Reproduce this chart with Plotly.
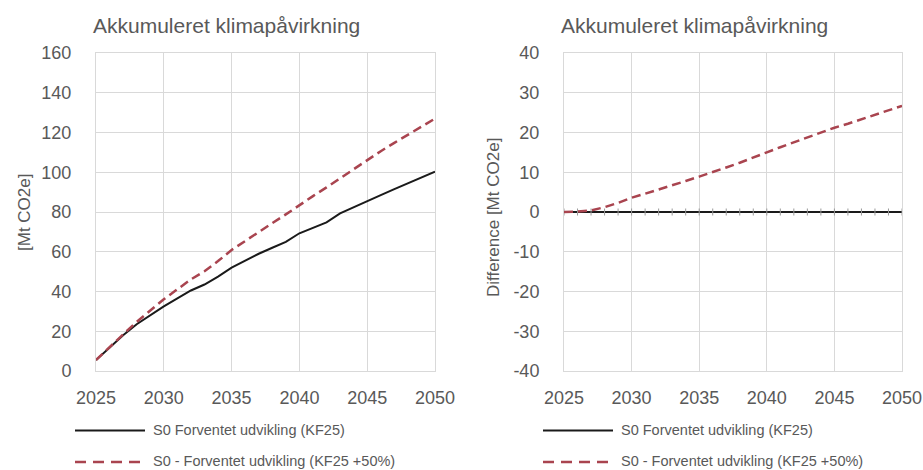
import plotly.graph_objects as go

# ---------------- data ----------------
years = list(range(2025, 2051))
base_cum = [5.5, 12.0, 18.0, 23.5, 28.0, 32.5, 36.5, 40.5, 43.5, 47.5,
            52.0, 55.5, 59.0, 62.0, 65.0, 69.3, 72.0, 74.8, 79.3, 82.5,
            85.4, 88.5, 91.5, 94.5, 97.5, 100.3]
high_cum = [5.5, 12.1, 18.4, 24.7, 30.3, 36.1, 41.1, 46.1, 50.2, 55.3,
            60.9, 65.5, 70.2, 74.4, 78.8, 83.6, 88.0, 92.4, 97.0, 101.8,
            106.4, 110.6, 114.8, 119.0, 123.1, 127.0]
base_diff = [0.0] * 26
high_diff = [0.0, 0.1, 0.4, 1.2, 2.3, 3.6, 4.6, 5.6, 6.7, 7.8,
             8.9, 10.0, 11.2, 12.4, 13.6, 15.0, 16.3, 17.5, 18.8, 20.0,
             21.2, 22.2, 23.3, 24.5, 25.6, 26.7]
x_ticks = [2025, 2030, 2035, 2040, 2045, 2050]
left_y_ticks = [0, 20, 40, 60, 80, 100, 120, 140, 160]
right_y_ticks = [-40, -30, -20, -10, 0, 10, 20, 30, 40]
right_y_labels = ["-40", "-30", "-20", "-10", "0", "10", "20", "30", "40"]
title_text = "Akkumuleret klimapåvirkning"
left_ytitle = "[Mt CO2e]"
right_ytitle = "Difference [Mt CO2e]"
name_base = "S0 Forventet udvikling (KF25)"
name_high = "S0 - Forventet udvikling (KF25 +50%)"

# ---------------- style ----------------
W, H = 923, 470
FONT = "Liberation Sans, Arial, sans-serif"
TXT = "#595959"
GRID = "#D9D9D9"
BLACK = "#1A1A1A"
RED = "#A9444F"


def px(x):
    return x / W


def py(y):
    return 1 - y / H


fig = go.Figure()
fig.add_trace(go.Scatter(x=years, y=base_cum, xaxis="x", yaxis="y", mode="lines",
                         line=dict(color=BLACK, width=2), name=name_base))
fig.add_trace(go.Scatter(x=years, y=high_cum, xaxis="x", yaxis="y", mode="lines",
                         line=dict(color=RED, width=2.5, dash="9px,5px"), name=name_high))
fig.add_trace(go.Scatter(x=years, y=base_diff, xaxis="x2", yaxis="y2", mode="lines+markers",
                         line=dict(color=BLACK, width=2),
                         marker=dict(symbol="line-ns", size=5, color="#9A9A9A",
                                     line=dict(color="#9A9A9A", width=1)),
                         name=name_base))
fig.add_trace(go.Scatter(x=years, y=high_diff, xaxis="x2", yaxis="y2", mode="lines",
                         line=dict(color=RED, width=2.5, dash="9px,5px"), name=name_high))

axis_common = dict(showgrid=True, gridcolor=GRID, gridwidth=1, showline=True,
                   linecolor=GRID, linewidth=1, mirror=True, zeroline=False,
                   automargin=False, ticks="",
                   tickfont=dict(family=FONT, size=18, color=TXT))

fig.update_layout(
    template="none",
    width=W, height=H, margin=dict(l=0, r=0, t=0, b=0, autoexpand=False),
    paper_bgcolor="white", plot_bgcolor="white", showlegend=False,
    xaxis=dict(domain=[px(96), px(435)], range=[2025, 2050], tickvals=x_ticks,
               anchor="y", ticklabelstandoff=10, **axis_common),
    yaxis=dict(domain=[py(371), py(53)], range=[0, 160], tickvals=left_y_ticks,
               anchor="x", ticklabelstandoff=20, **axis_common),
    xaxis2=dict(domain=[px(564), px(902)], range=[2025, 2050], tickvals=x_ticks,
                anchor="y2", ticklabelstandoff=10, **axis_common),
    yaxis2=dict(domain=[py(371), py(53)], range=[-40, 40], tickvals=right_y_ticks,
                ticktext=right_y_labels,
                anchor="x2", ticklabelstandoff=20, **axis_common),
)

ann = []
# titles
for xl in (91, 559):
    ann.append(dict(text=title_text, x=px(xl), y=py(26), xref="paper", yref="paper",
                    xanchor="left", yanchor="middle", showarrow=False,
                    font=dict(family=FONT, size=21, color=TXT)))
# y-axis titles
ann.append(dict(text=left_ytitle, x=px(24), y=py(213), xref="paper", yref="paper",
                xanchor="center", yanchor="middle", textangle=-90, showarrow=False,
                font=dict(family=FONT, size=17, color=TXT)))
ann.append(dict(text=right_ytitle, x=px(493), y=py(217), xref="paper", yref="paper",
                xanchor="center", yanchor="middle", textangle=-90, showarrow=False,
                font=dict(family=FONT, size=17, color=TXT)))

shapes = []
# custom legends
for (x0, x1, xt) in ((75, 145, 151), (543, 613, 619)):
    shapes.append(dict(type="line", xref="paper", yref="paper", x0=px(x0), x1=px(x1),
                       y0=py(430.5), y1=py(430.5), line=dict(color=BLACK, width=2)))
    shapes.append(dict(type="line", xref="paper", yref="paper", x0=px(x0), x1=px(x1),
                       y0=py(462), y1=py(462), line=dict(color=RED, width=2.5, dash="11px,7px")))
    ann.append(dict(text=name_base, x=px(xt), y=py(430), xref="paper", yref="paper",
                    xanchor="left", yanchor="middle", showarrow=False,
                    font=dict(family=FONT, size=14.5, color=TXT)))
    ann.append(dict(text=name_high, x=px(xt), y=py(461), xref="paper", yref="paper",
                    xanchor="left", yanchor="middle", showarrow=False,
                    font=dict(family=FONT, size=14.5, color=TXT)))

fig.update_layout(annotations=ann, shapes=shapes)
fig.write_html(
    "out.html",
    config={"displayModeBar": False},
    post_script="document.body.style.margin='0';document.body.style.overflow='hidden';",
)
